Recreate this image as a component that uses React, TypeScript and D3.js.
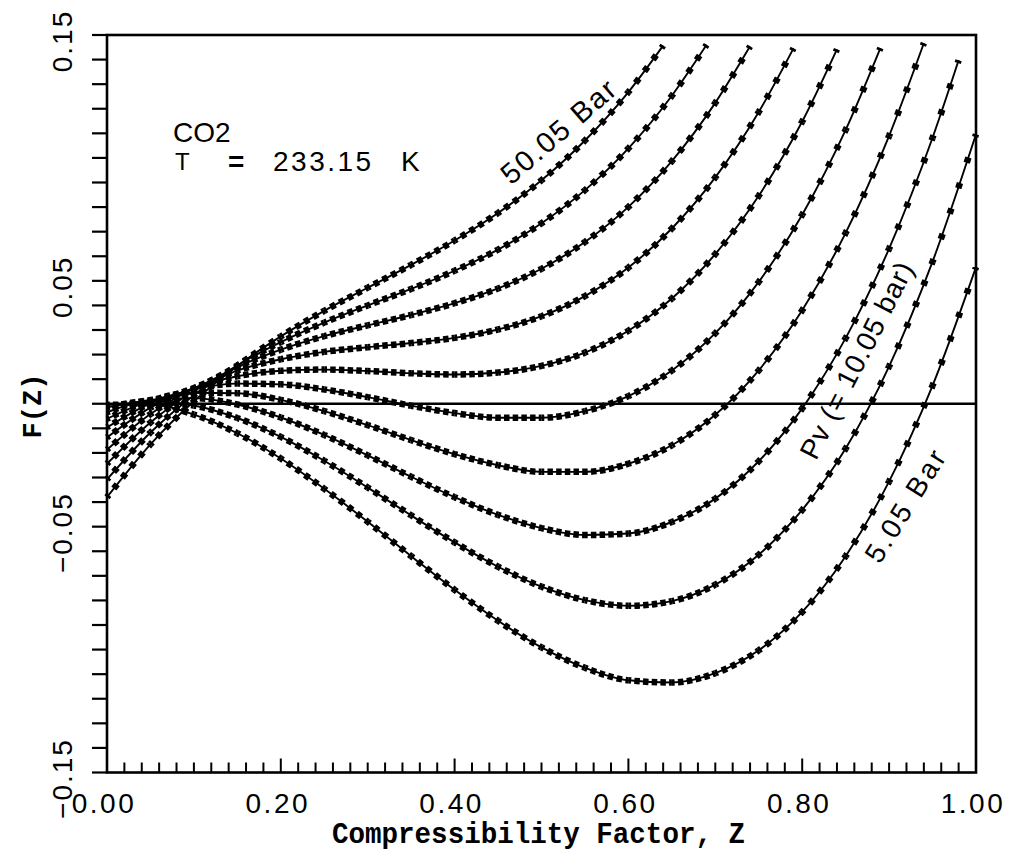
import React from "react";
import * as d3 from "d3";

// Compressibility factor grid (x values of the plotted points)
const zGrid = [0, 0.05, 0.1, 0.15, 0.2, 0.25, 0.3, 0.35, 0.4, 0.45, 0.5, 0.55, 0.6, 0.65, 0.7, 0.75, 0.8, 0.85, 0.9, 0.95, 1.0];

// Pressures (bar) of the isobars
const pressures = [5.05, 10.05, 15.05, 20.05, 25.05, 30.05, 35.05, 40.05, 45.05, 50.05];

// F(Z) values, on zGrid (curves stop where they leave the top)
const fP05 = [-0.0004, -0.0003, -0.0044, -0.012, -0.0223, -0.0346, -0.048, -0.062, -0.0757, -0.0883, -0.0991, -0.1074, -0.1125, -0.1134, -0.1096, -0.1003, -0.0847, -0.062, -0.0316, 0.0074, 0.0556];
const fP10 = [-0.0015, 0.001, -0.0007, -0.0058, -0.0135, -0.0232, -0.0341, -0.0454, -0.0564, -0.0663, -0.0744, -0.0799, -0.0822, -0.0803, -0.0736, -0.0614, -0.0432, -0.0182, 0.0152, 0.0578, 0.1096];
const fP15 = [-0.0035, 0.0015, 0.0023, -0.0003, -0.0056, -0.0127, -0.021, -0.0297, -0.038, -0.0452, -0.0506, -0.0534, -0.0528, -0.0481, -0.0386, -0.0234, -0.0019, 0.0267, 0.0631, 0.1082];
const fP20 = [-0.0061, 0.0012, 0.0045, 0.0043, 0.0016, -0.003, -0.0087, -0.0148, -0.0205, -0.025, -0.0277, -0.0277, -0.0244, -0.0169, -0.0045, 0.0136, 0.038, 0.0695, 0.109];
const fP25 = [-0.0096, 0.0002, 0.0058, 0.0082, 0.0079, 0.0058, 0.0027, -0.0008, -0.0038, -0.0057, -0.0057, -0.003, 0.0031, 0.0135, 0.0287, 0.0496, 0.0769, 0.1114];
const fP30 = [-0.0137, -0.0016, 0.0064, 0.0112, 0.0134, 0.0139, 0.0133, 0.0124, 0.0119, 0.0127, 0.0154, 0.0208, 0.0297, 0.0428, 0.0609, 0.0846, 0.1148];
const fP35 = [-0.0187, -0.0042, 0.0062, 0.0135, 0.0181, 0.0211, 0.023, 0.0247, 0.0268, 0.0302, 0.0356, 0.0438, 0.0554, 0.0713, 0.0921, 0.1187];
const fP40 = [-0.0244, -0.0076, 0.0053, 0.0149, 0.022, 0.0275, 0.0319, 0.0361, 0.0409, 0.0469, 0.0549, 0.0658, 0.0801, 0.0987, 0.1224];
const fP45 = [-0.0308, -0.0117, 0.0035, 0.0156, 0.0251, 0.033, 0.04, 0.0467, 0.0541, 0.0627, 0.0734, 0.0869, 0.1039, 0.1253];
const fP50 = [-0.038, -0.0165, 0.001, 0.0154, 0.0274, 0.0378, 0.0472, 0.0565, 0.0664, 0.0776, 0.0909, 0.1071, 0.1268];

const seriesValues = [fP05, fP10, fP15, fP20, fP25, fP30, fP35, fP40, fP45, fP50];

// Last plotted point of each curve (just below the top of the frame)
const endZ = [null, null, 0.98, 0.94, 0.89, 0.84, 0.79, 0.74, 0.69, 0.64];
const endF = [null, null, 0.1397, 0.1467, 0.1447, 0.1442, 0.1446, 0.1454, 0.146, 0.1457];

const xTickValues = [0, 0.2, 0.4, 0.6, 0.8, 1.0];
const xTickLabels = ["0.00", "0.20", "0.40", "0.60", "0.80", "1.00"];
const yTickValues = [0.15, 0.05, -0.05, -0.15];
const yTickLabels = ["0.15", "0.05", "\u22120.05", "\u22120.15"];

const W = 1013;
const H = 859;
const PL = 107, PR = 976, PT = 35, PB = 772.5;
const SANS = "'Liberation Sans', Arial, Helvetica, sans-serif";
const MONO = "'Liberation Mono', 'Courier New', monospace";

export default function App() {
  const x = d3.scaleLinear().domain([0, 1]).range([PL, PR]);
  const y = d3.scaleLinear().domain([-0.15, 0.15]).range([PB, PT]);
  const line = d3
    .line<[number, number]>()
    .x((d) => x(d[0]))
    .y((d) => y(d[1]))
    .curve(d3.curveMonotoneX);

  const curves = seriesValues.map((vals, i) => {
    const pts: [number, number][] = vals.map((v, j) => [zGrid[j], v]);
    if (endZ[i] != null) pts.push([endZ[i] as number, endF[i] as number]);
    const d = line(pts) || "";
    const parts = d.split("C");
    const m = parts[0].slice(1).split(",").map(Number);
    let px = m[0];
    let py = m[1];
    const segs: { d: string; p: number; dl: number }[] = [];
    for (let k = 1; k < parts.length; k++) {
      const nums = parts[k].split(",").map(Number);
      const ex = nums[4];
      const ey = nums[5];
      const steps = Math.max(1, Math.round((pts[k][0] - pts[k - 1][0]) / 0.01));
      const chord = Math.hypot(ex - px, ey - py);
      const p = chord / steps;
      const dl = Math.min(5.5, p * 0.7);
      segs.push({ d: `M${px},${py}C${parts[k]}`, p, dl });
      px = ex;
      py = ey;
    }
    return { d, segs, p: pressures[i] };
  });

  const yMinor = d3.range(-15, 16).map((i) => i / 100);
  const xMinor = d3.range(0, 51).map((i) => i / 50);

  return (
    <svg width={W} height={H} viewBox={`0 0 ${W} ${H}`} style={{ display: "block", position: "absolute", left: 0, top: 0, background: "#fff" }}>
      <rect x={0} y={0} width={W} height={H} fill="#fff" />

      {/* curves */}
      {curves.map((c, i) => (
        <g key={i}>
          <path d={c.d} fill="none" stroke="#000" strokeWidth={1.9} />
          {c.segs.map((s, k) => (
            <path
              key={k}
              d={s.d}
              fill="none"
              stroke="#000"
              strokeWidth={6.5}
              strokeDasharray={`${s.dl} ${Math.max(0.1, s.p - s.dl)}`}
              strokeDashoffset={s.dl / 2}
            />
          ))}
        </g>
      ))}

      {/* zero line */}
      <line x1={PL} x2={PR} y1={y(0)} y2={y(0)} stroke="#000" strokeWidth={2.4} />

      {/* frame */}
      <rect x={PL} y={PT} width={PR - PL} height={PB - PT} fill="none" stroke="#000" strokeWidth={2.6} />

      {/* y ticks (outward) */}
      {yMinor.map((v, i) => (
        <line key={i} x1={PL - 15} x2={PL} y1={y(v)} y2={y(v)} stroke="#000" strokeWidth={2.2} />
      ))}
      {/* x ticks (inward) */}
      {xMinor.map((v, i) => (
        <line key={i} x1={x(v)} x2={x(v)} y1={PB} y2={PB - (i % 10 === 0 ? 14 : 10)} stroke="#000" strokeWidth={2} />
      ))}

      {/* x tick labels */}
      {xTickValues.map((v, i) => (
        <text key={i} x={x(v) - 3} y={813} textAnchor="middle" fontFamily={SANS} fontSize={28} letterSpacing={2.5} fill="#000">
          {xTickLabels[i]}
        </text>
      ))}
      {/* y tick labels */}
      {yTickValues.map((v, i) => (
        <text
          key={i}
          transform={`translate(72,${y(v) + 6}) rotate(-90)`}
          textAnchor="middle"
          fontFamily={SANS}
          fontSize={28}
          letterSpacing={2}
          fill="#000"
        >
          {yTickLabels[i]}
        </text>
      ))}

      {/* axis titles */}
      <text x={332} y={843} fontFamily={MONO} fontWeight="bold" fontSize={29} textLength={413} lengthAdjust="spacingAndGlyphs" fill="#000">
        Compressibility Factor, Z
      </text>
      <text transform="translate(41,406) rotate(-90)" textAnchor="middle" fontFamily={MONO} fontWeight="bold" fontSize={27} fill="#000">
        F(Z)
      </text>

      {/* annotation */}
      <text x={173} y={142} fontFamily={SANS} fontSize={28} fill="#000">CO2</text>
      <text x={175} y={170} fontFamily={SANS} fontSize={24} fill="#000">T</text>
      <text x={228} y={171} fontFamily={SANS} fontSize={28} fontWeight="bold" fill="#000">=</text>
      <text x={273} y={171} fontFamily={SANS} fontSize={28} letterSpacing={2.5} fill="#000">233.15</text>
      <text x={401} y={171} fontFamily={SANS} fontSize={28} fill="#000">K</text>

      {/* curve labels */}
      <text transform="translate(559,131) rotate(-41)" textAnchor="middle" dominantBaseline="central" fontFamily={SANS} fontSize={29} letterSpacing={2} fill="#000">
        50.05 Bar
      </text>
      <text transform="translate(857,360) rotate(-63)" textAnchor="middle" dominantBaseline="central" fontFamily={SANS} fontSize={28} letterSpacing={1} fill="#000">
        Pv (= 10.05 bar)
      </text>
      <text transform="translate(906,505) rotate(-58)" textAnchor="middle" dominantBaseline="central" fontFamily={SANS} fontSize={28} letterSpacing={3} fill="#000">
        5.05 Bar
      </text>
    </svg>
  );
}
